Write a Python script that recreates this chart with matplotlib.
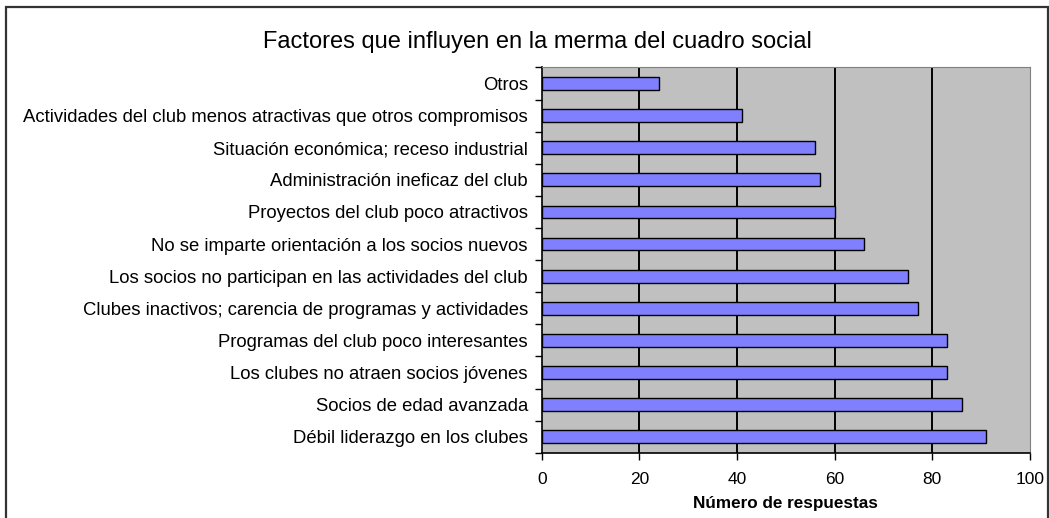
import matplotlib.pyplot as plt
import matplotlib.patches as mpatches

plt.rcParams['font.family'] = ['Liberation Sans', 'DejaVu Sans']

# categories from top to bottom as shown in the chart
factores = [
    "Otros",
    "Actividades del club menos atractivas que otros compromisos",
    "Situación económica; receso industrial",
    "Administración ineficaz del club",
    "Proyectos del club poco atractivos",
    "No se imparte orientación a los socios nuevos",
    "Los socios no participan en las actividades del club",
    "Clubes inactivos; carencia de programas y actividades",
    "Programas del club poco interesantes",
    "Los clubes no atraen socios jóvenes",
    "Socios de edad avanzada",
    "Débil liderazgo en los clubes",
]
respuestas = [24, 41, 56, 57, 60, 66, 75, 77, 83, 83, 86, 91]
x_ticks = [0, 20, 40, 60, 80, 100]

fig = plt.figure(figsize=(10.49, 5.18), dpi=100)
ax = fig.add_axes([0.5164, 0.126, 0.4655, 0.7437])

# outer chart border
fig.patches.append(mpatches.Rectangle((6 / 1049, -0.02), 1042 / 1049, 1 - 7 / 518 + 0.02,
                                      transform=fig.transFigure, fill=False,
                                      edgecolor='#333333', linewidth=1.6))

n = len(factores)
ypos = list(range(n))[::-1]
ax.set_facecolor('#c0c0c0')
ax.barh(ypos, respuestas, height=0.4, color='#8080ff', edgecolor='black',
        linewidth=1.0, zorder=3)

ax.set_xlim(0, 100)
ax.set_ylim(-0.5, n - 0.5)
ax.set_xticks(x_ticks)
ax.set_xticklabels([str(t) for t in x_ticks], fontsize=12.5)
ax.set_yticks(ypos)
ax.set_yticklabels(factores, fontsize=13.3)
ax.tick_params(axis='y', length=0, pad=10)
ax.set_yticks([i - 0.5 for i in range(n + 1)], minor=True)
ax.tick_params(axis='y', which='minor', length=5, width=1, direction='out')
ax.tick_params(axis='x', length=5, width=1, direction='out', pad=9)

for g in x_ticks[1:-1]:
    ax.axvline(g, color='black', linewidth=1.4, zorder=1)

for s in ['top', 'right']:
    ax.spines[s].set_color('#808080')
for s in ['left', 'bottom']:
    ax.spines[s].set_color('black')
    ax.spines[s].set_linewidth(1.2)

ax.set_xlabel("Número de respuestas", fontsize=12.3, fontweight='bold', labelpad=6)
fig.text(0.512, 0.918, "Factores que influyen en la merma del cuadro social",
         ha='center', va='center', fontsize=17)

fig.savefig("out.png", dpi=100)
